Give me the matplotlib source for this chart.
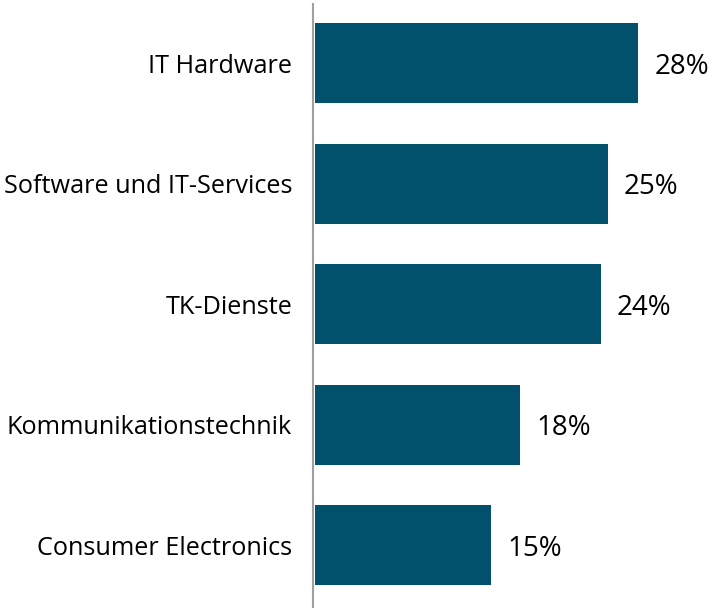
import matplotlib
matplotlib.use("Agg")
import matplotlib.pyplot as plt

categories = ["IT Hardware", "Software und IT-Services", "TK-Dienste",
              "Kommunikationstechnik", "Consumer Electronics"]
values = [27.7, 25.1, 24.5, 17.6, 15.1]
value_labels = ["28%", "25%", "24%", "18%", "15%"]

plt.rcParams['font.family'] = ['Open Sans', 'DejaVu Sans']

fig = plt.figure(figsize=(7.22, 6.08), dpi=100)
ax = fig.add_axes([313 / 722, 0, 409 / 722, 604 / 608])

pos = list(range(len(categories)))
ax.barh(pos, values, height=0.664, color="#02516C", left=0.15)
for p, v, lab in zip(pos, values, value_labels):
    ax.text(v + 1.5, p, lab, va="center_baseline", ha="left", fontsize=20, color="black")

ax.set_xlim(0, 35)
ax.set_ylim(4.52, -0.49)
ax.set_yticks(pos)
ax.set_yticklabels(categories, fontsize=18.2)
ax.tick_params(axis="y", length=0, pad=15)
ax.set_xticks([])
for s in ["top", "right", "bottom"]:
    ax.spines[s].set_visible(False)
ax.spines["left"].set_color("#A0A0A0")
ax.spines["left"].set_linewidth(1.5)

fig.savefig("out.png", dpi=100)
